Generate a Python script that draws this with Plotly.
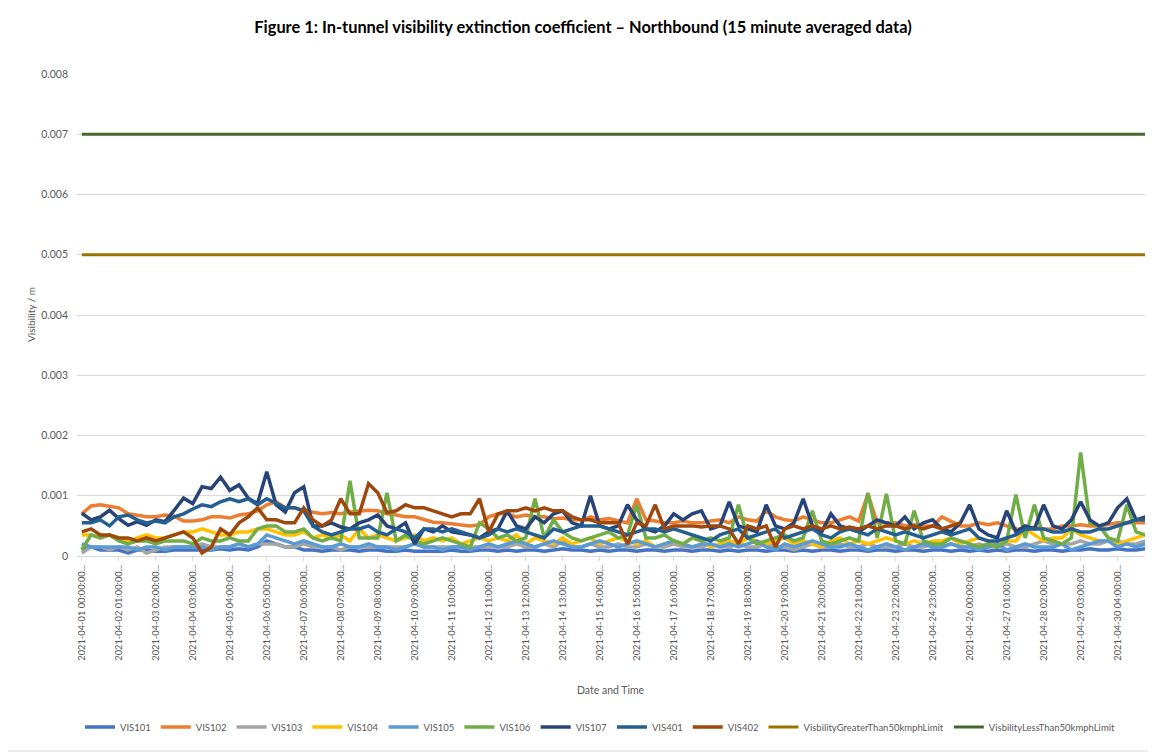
import plotly.graph_objects as go

# ---- data (in units of 1e-4 per metre) ----
SCALE = 1e-4
SAMPLE_INDEX = list(range(0, 2900, 25))  # 15-minute record number, sampled every 25 records

VIS101 = [1.0, 1.5, 1.0, 1.0, 1.0, 0.5, 1.0, 1.0, 0.8, 0.8, 1.0, 1.0, 1.0, 1.0, 1.0, 1.2, 1.0, 1.2, 1.0, 1.5, 2.5, 2.0, 1.5,
          1.5, 1.0, 1.0, 0.8, 1.0, 1.0, 1.0, 0.8, 1.0, 1.0, 0.8, 0.8, 1.0, 0.8, 0.8, 0.8, 0.8, 1.0, 0.8, 0.8, 1.0, 1.0, 0.8,
          1.0, 0.8, 1.0, 1.0, 0.8, 1.0, 1.2, 1.0, 1.0, 0.8, 1.0, 0.8, 1.0, 1.0, 0.8, 1.0, 1.0, 0.8, 1.0, 1.0, 0.8, 1.0, 1.0, 0.8,
          1.0, 0.8, 1.0, 1.0, 0.8, 1.0, 1.0, 0.8, 1.0, 0.8, 1.0, 1.0, 0.8, 1.0, 1.0, 0.8, 1.0, 1.0, 0.8, 1.0, 1.0, 0.8, 1.0,
          1.0, 0.8, 1.0, 0.8, 1.0, 0.8, 1.0, 0.8, 1.0, 1.0, 0.8, 1.0, 1.0, 0.8, 1.0, 1.0, 1.2, 1.0, 1.0, 1.2, 1.0, 1.0, 1.2]

VIS102 = [7.0, 8.3, 8.5, 8.3, 8.0, 7.0, 6.8, 6.5, 6.5, 6.8, 6.6, 5.8, 5.8, 6.0, 6.5, 6.5, 6.3, 6.8, 7.0, 7.5, 8.5, 9.0, 8.0,
          8.0, 7.5, 7.2, 7.0, 7.2, 7.0, 7.3, 7.5, 7.6, 7.5, 7.0, 6.8, 6.5, 6.5, 6.0, 5.6, 5.5, 5.3, 5.2, 5.0, 5.2, 6.5, 7.0,
          7.0, 6.5, 6.8, 6.5, 6.5, 6.2, 6.3, 6.0, 6.0, 6.5, 6.0, 6.2, 5.8, 5.5, 9.5, 6.0, 5.8, 5.5, 5.5, 5.8, 5.5, 5.5, 5.8, 6.0,
          5.5, 6.5, 6.0, 5.8, 7.5, 6.5, 6.0, 5.8, 6.5, 6.0, 5.5, 5.5, 6.0, 6.5, 5.8, 10.3, 5.5, 5.5, 5.5, 5.0, 5.2, 5.0, 5.0,
          6.5, 5.8, 5.0, 5.0, 5.5, 5.2, 5.5, 5.0, 4.5, 4.5, 4.8, 4.5, 4.5, 5.0, 5.0, 5.2, 5.0, 5.0, 5.2, 5.5, 5.5, 5.5, 5.5]

VIS103 = [0.5, 1.5, 1.5, 1.0, 1.5, 1.0, 1.5, 0.5, 1.0, 1.5, 1.5, 1.5, 1.5, 2.0, 1.5, 1.5, 1.5, 2.0, 1.5, 2.0, 2.0, 2.0, 1.5,
          1.5, 2.0, 1.5, 1.5, 1.5, 1.0, 1.5, 1.5, 1.5, 1.5, 1.5, 1.5, 1.5, 2.0, 1.5, 1.5, 1.5, 1.5, 1.5, 1.5, 1.5, 1.5, 1.5,
          1.5, 2.0, 1.5, 1.5, 2.0, 1.5, 2.5, 1.5, 1.5, 2.0, 1.5, 1.5, 2.0, 1.5, 1.5, 2.0, 1.5, 1.5, 2.0, 1.5, 1.5, 1.5, 2.0, 1.5,
          1.5, 2.0, 1.5, 1.5, 2.0, 1.5, 1.5, 1.0, 1.5, 2.0, 1.5, 1.5, 2.0, 1.5, 1.5, 2.0, 1.5, 1.5, 1.5, 2.0, 1.5, 1.5, 2.0,
          1.5, 2.0, 1.5, 1.5, 2.0, 1.5, 1.5, 2.0, 1.5, 1.5, 2.0, 2.5, 2.0, 2.0, 2.0, 2.5, 2.0, 2.0, 2.5, 2.5, 2.0, 2.0, 2.5]

VIS104 = [3.5, 3.5, 3.0, 3.5, 3.0, 2.5, 3.0, 3.5, 3.0, 3.0, 3.5, 4.0, 4.0, 4.5, 4.0, 3.5, 3.5, 4.0, 4.0, 4.5, 4.5, 4.0, 3.5,
          3.5, 4.0, 3.0, 3.5, 3.0, 3.5, 2.5, 4.5, 3.0, 3.5, 3.0, 2.5, 3.0, 3.5, 2.5, 3.0, 2.5, 3.0, 2.0, 2.5, 3.0, 2.5, 3.0,
          2.5, 3.5, 2.0, 3.0, 2.5, 2.0, 3.0, 2.0, 2.5, 3.0, 2.0, 2.5, 3.0, 2.5, 2.0, 2.5, 1.5, 2.0, 2.5, 2.0, 3.0, 2.5, 1.5, 2.0,
          2.5, 2.0, 3.0, 2.5, 2.0, 2.5, 3.0, 2.0, 2.5, 2.0, 1.5, 2.5, 3.0, 2.0, 2.5, 2.0, 2.5, 3.0, 2.5, 2.0, 2.5, 2.0, 2.5,
          2.5, 3.0, 2.0, 2.5, 3.0, 2.5, 2.0, 2.5, 2.5, 4.5, 3.5, 2.5, 3.0, 3.0, 4.5, 3.5, 3.0, 2.5, 2.5, 2.0, 2.5, 3.0, 3.5]

VIS105 = [2.0, 1.5, 1.5, 1.5, 1.5, 1.5, 1.0, 1.5, 1.5, 1.0, 1.5, 1.5, 1.5, 1.5, 1.0, 1.5, 1.5, 2.0, 1.5, 2.0, 3.5, 3.0, 2.5,
          2.0, 2.5, 2.0, 1.5, 1.5, 2.0, 1.5, 1.5, 2.0, 1.5, 1.5, 1.0, 1.5, 2.0, 1.5, 1.5, 1.0, 1.5, 1.5, 1.0, 1.5, 2.0, 1.5,
          2.0, 2.5, 2.0, 1.5, 2.0, 2.5, 2.0, 1.5, 1.5, 2.0, 2.5, 2.0, 1.5, 2.0, 2.5, 2.0, 1.5, 2.0, 2.5, 2.0, 1.5, 2.0, 2.0, 1.5,
          2.0, 1.5, 2.0, 2.5, 1.5, 1.0, 2.0, 1.5, 2.0, 2.5, 2.0, 1.5, 1.5, 2.0, 1.5, 1.0, 1.5, 2.0, 1.5, 1.0, 1.5, 2.0, 1.5,
          1.5, 2.0, 1.5, 1.5, 1.0, 1.5, 2.0, 1.0, 1.5, 2.0, 1.5, 1.5, 1.5, 2.0, 1.0, 1.5, 2.0, 2.5, 2.5, 1.5, 2.0, 1.5, 2.0]

VIS106 = [1.0, 3.5, 3.0, 3.5, 2.5, 2.0, 2.5, 2.5, 2.0, 2.5, 2.5, 2.5, 2.0, 3.0, 2.5, 2.5, 3.0, 2.5, 2.5, 4.5, 5.0, 5.0, 4.0,
          4.0, 4.5, 3.0, 2.5, 3.0, 2.5, 12.5, 3.0, 3.0, 3.0, 10.5, 2.5, 3.5, 2.5, 2.0, 2.5, 3.0, 2.5, 2.0, 1.5, 5.5, 4.5, 3.0,
          3.5, 2.5, 3.0, 9.5, 3.0, 6.0, 4.0, 3.0, 2.5, 3.0, 3.5, 4.0, 3.0, 3.5, 8.5, 3.0, 3.0, 3.5, 2.5, 2.0, 3.0, 2.5, 3.0, 2.5,
          3.0, 8.5, 3.0, 2.0, 2.5, 3.0, 3.5, 2.5, 3.0, 7.5, 2.5, 2.0, 2.5, 3.0, 2.5, 10.5, 3.0, 10.3, 2.5, 2.0, 7.5, 2.5, 2.0,
          2.0, 3.0, 2.5, 2.0, 1.5, 2.0, 1.5, 2.5, 10.2, 3.0, 8.5, 3.0, 2.5, 2.0, 3.0, 17.2, 5.5, 5.0, 3.0, 2.5, 8.5, 4.0, 3.5]

VIS107 = [7.1, 6.0, 6.5, 7.6, 6.2, 5.1, 5.7, 5.1, 6.0, 5.7, 7.6, 9.6, 8.7, 11.5, 11.2, 13.1, 10.9, 11.8, 9.6, 8.7, 14.0, 8.5, 7.3,
          10.5, 11.5, 5.0, 5.0, 5.5, 4.8, 4.5, 5.5, 6.0, 6.8, 5.0, 4.5, 5.5, 2.0, 4.5, 4.0, 5.0, 4.0, 3.8, 3.5, 3.0, 4.0, 4.5,
          7.5, 5.0, 4.5, 6.5, 5.5, 7.0, 7.5, 5.5, 5.0, 10.0, 5.0, 4.5, 5.0, 8.5, 6.0, 4.5, 4.0, 5.0, 7.0, 6.0, 7.0, 7.5, 4.5, 5.0,
          9.0, 5.0, 4.5, 4.0, 8.5, 5.0, 4.5, 5.5, 9.5, 5.0, 4.0, 7.0, 5.0, 4.5, 4.0, 5.0, 6.0, 5.5, 5.0, 6.5, 4.5, 5.5, 6.0,
          4.5, 4.0, 5.5, 8.5, 4.5, 3.5, 3.0, 7.5, 4.0, 5.0, 4.5, 8.5, 5.0, 4.5, 6.0, 9.0, 6.0, 5.0, 5.5, 8.0, 9.5, 6.0, 6.5]

VIS401 = [5.5, 5.5, 6.0, 5.0, 6.5, 6.8, 6.0, 5.5, 5.8, 5.5, 6.5, 7.0, 7.8, 8.5, 8.2, 9.0, 9.5, 9.0, 9.5, 8.5, 9.5, 8.8, 8.0,
          8.0, 7.5, 5.0, 4.0, 3.5, 4.0, 4.5, 4.5, 5.0, 4.0, 3.5, 4.5, 4.0, 3.0, 4.5, 4.5, 4.0, 4.5, 4.0, 3.5, 3.0, 3.5, 4.5,
          4.0, 4.5, 4.0, 3.5, 3.0, 4.5, 4.0, 4.5, 5.0, 5.0, 5.0, 4.5, 4.0, 3.5, 4.0, 4.5, 4.5, 4.0, 4.5, 4.0, 3.5, 3.0, 2.5, 3.5,
          4.0, 4.5, 3.0, 3.5, 4.0, 4.5, 3.0, 3.5, 4.0, 4.5, 3.5, 3.0, 4.0, 4.5, 4.0, 3.5, 4.5, 4.0, 3.5, 4.0, 3.5, 3.0, 3.5,
          4.0, 3.5, 4.0, 4.5, 3.0, 2.5, 2.5, 3.0, 3.5, 4.5, 4.5, 4.5, 4.0, 4.0, 4.5, 4.0, 4.0, 4.5, 4.5, 5.0, 5.5, 6.0, 6.0]

VIS402 = [4.0, 4.5, 3.5, 3.5, 3.0, 3.0, 2.5, 3.0, 2.5, 3.0, 3.5, 4.0, 3.0, 0.5, 1.5, 4.5, 3.5, 5.5, 6.5, 8.0, 6.0, 6.0, 5.5,
          5.5, 8.0, 6.0, 5.0, 6.0, 9.5, 7.0, 7.0, 12.0, 10.5, 7.2, 7.5, 8.5, 8.0, 8.0, 7.5, 7.0, 6.5, 7.0, 7.0, 9.5, 4.0, 7.0,
          7.5, 7.5, 8.0, 7.5, 8.0, 7.5, 7.5, 6.5, 6.0, 6.0, 5.5, 5.5, 5.5, 2.0, 5.5, 5.0, 8.5, 4.5, 5.0, 5.0, 5.0, 4.8, 5.0, 5.0,
          4.5, 2.0, 5.0, 4.5, 5.0, 1.5, 4.5, 5.0, 4.5, 5.0, 4.5, 5.0, 4.5, 4.8, 4.5, 5.0, 4.5, 5.0, 5.0, 4.5, 5.0, 4.5, 5.0,
          4.5, 5.0, 5.5]

LIMIT_GREATER_50 = 0.005
LIMIT_LESS_50 = 0.007

TICK_POSITIONS = list(range(0, 2900, 100))
TICK_LABELS = [
    "2021-04-01 00:00:00...", "2021-04-02 01:00:00...", "2021-04-03 02:00:00...", "2021-04-04 03:00:00...",
    "2021-04-05 04:00:00...", "2021-04-06 05:00:00...", "2021-04-07 06:00:00...", "2021-04-08 07:00:00...",
    "2021-04-09 08:00:00...", "2021-04-10 09:00:00...", "2021-04-11 10:00:00...", "2021-04-12 11:00:00...",
    "2021-04-13 12:00:00...", "2021-04-14 13:00:00...", "2021-04-15 14:00:00...", "2021-04-16 15:00:00...",
    "2021-04-17 16:00:00...", "2021-04-18 17:00:00...", "2021-04-19 18:00:00...", "2021-04-20 19:00:00...",
    "2021-04-21 20:00:00...", "2021-04-22 21:00:00...", "2021-04-23 22:00:00...", "2021-04-24 23:00:00...",
    "2021-04-26 00:00:00...", "2021-04-27 01:00:00...", "2021-04-28 02:00:00...", "2021-04-29 03:00:00...",
    "2021-04-30 04:00:00...",
]
Y_TICKS = [0, 0.001, 0.002, 0.003, 0.004, 0.005, 0.006, 0.007, 0.008]
Y_TICK_LABELS = ["0", "0.001", "0.002", "0.003", "0.004", "0.005", "0.006", "0.007", "0.008"]

series = [
    ("VIS101", VIS101, "#4472C4"),
    ("VIS102", VIS102, "#ED7D31"),
    ("VIS103", VIS103, "#A5A5A5"),
    ("VIS104", VIS104, "#FFC000"),
    ("VIS105", VIS105, "#5B9BD5"),
    ("VIS106", VIS106, "#70AD47"),
    ("VIS107", VIS107, "#264478"),
    ("VIS401", VIS401, "#255E91"),
    ("VIS402", VIS402, "#9E480E"),
]

FONT = "Lato"
GREY = "#595959"

fig = go.Figure()
for name, vals, color in series:
    fig.add_trace(go.Scatter(
        x=SAMPLE_INDEX[:len(vals)], y=[v * SCALE for v in vals], name=name, mode="lines",
        line=dict(color=color, width=3.5),
    ))

fig.add_trace(go.Scatter(
    x=SAMPLE_INDEX, y=[LIMIT_GREATER_50] * len(SAMPLE_INDEX), name="VisbilityGreaterThan50kmphLimit",
    mode="lines", line=dict(color="#997300", width=3),
))
fig.add_trace(go.Scatter(
    x=SAMPLE_INDEX, y=[LIMIT_LESS_50] * len(SAMPLE_INDEX), name="VisbilityLessThan50kmphLimit",
    mode="lines", line=dict(color="#43682B", width=3),
))

# The page body has an 8px margin, so the figure is laid out 8px smaller and
# all reference pixel positions are converted with that offset.
OFF = 8
W, H = 1156 - OFF, 756 - OFF
L, T = 77 - OFF, 74 - OFF
R = W - (1145 - OFF)
B = H - (556 - OFF)
pw, ph = W - L - R, H - T - B

def px_x(p):
    return (p - OFF - L) / pw

def px_y(p):
    return (H - B - (p - OFF)) / ph

fig.update_layout(
    width=W, height=H,
    margin=dict(l=L, r=R, t=T, b=B),
    paper_bgcolor="white", plot_bgcolor="white",
    font=dict(family=FONT, color=GREY, size=10),
    title=dict(
        text="<b>Figure 1: In-tunnel visibility extinction coefficient – Northbound (15 minute averaged data)</b>",
        x=(583 - OFF) / W, xanchor="center", y=1 - (27 - OFF) / H, yanchor="middle",
        font=dict(family=FONT, size=16.4, color="#000000"),
    ),
    xaxis=dict(
        range=[-13, 2874], tickmode="array", tickvals=TICK_POSITIONS, ticktext=TICK_LABELS,
        tickangle=-90, tickfont=dict(size=9.3, color=GREY), showgrid=False, zeroline=False,
        showline=True, linecolor="#D9D9D9", linewidth=1, ticks="outside", ticklen=4, tickcolor="#D9D9D9",
    ),
    yaxis=dict(
        range=[0, 0.008], tickmode="array", tickvals=Y_TICKS, ticktext=Y_TICK_LABELS,
        tickfont=dict(size=10.5, color=GREY), showgrid=True, gridcolor="#D9D9D9", gridwidth=1,
        zeroline=False, showline=False, ticklabelstandoff=8,
    ),
    legend=dict(
        orientation="h", x=px_x(600), xanchor="center", y=px_y(727), yanchor="middle",
        font=dict(size=9.5, color=GREY), itemwidth=30, traceorder="normal",
    ),
    showlegend=True,
    annotations=[
        dict(text="Visibility / m", xref="paper", yref="paper", x=px_x(31), y=px_y(315),
             textangle=-90, showarrow=False, font=dict(size=10, color=GREY), xanchor="center", yanchor="middle"),
        dict(text="Date and Time", xref="paper", yref="paper", x=px_x(611), y=px_y(690),
             showarrow=False, font=dict(size=10.5, color=GREY), xanchor="center", yanchor="middle"),
    ],
    shapes=[
        dict(type="rect", xref="paper", yref="paper", x0=px_x(6), x1=px_x(1151), y0=px_y(751), y1=px_y(6),
             line=dict(color="#D9D9D9", width=1), fillcolor="rgba(0,0,0,0)", layer="below"),
    ],
)

fig.write_html("out.html")
